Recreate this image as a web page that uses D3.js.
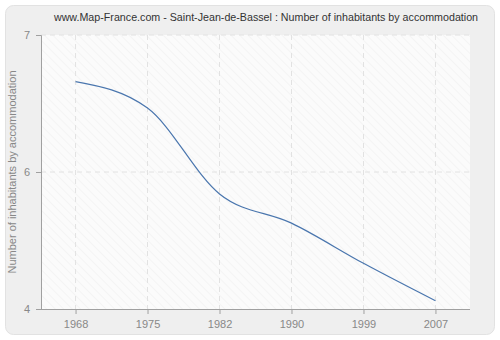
<!DOCTYPE html>
<html>
<head>
<meta charset="utf-8">
<script src="https://cdn.jsdelivr.net/npm/d3@7"></script>
<style>
  body { margin: 0; background: #fff; }
  svg { display: block; font-family: "Liberation Sans", Arial, sans-serif; }
</style>
</head>
<body>
<script>
// chart data
var years = ["1968", "1975", "1982", "1990", "1999", "2007"];
var inhabitants = [6.49, 6.20, 5.26, 4.94, 4.50, 4.09];
var yTicks = [4, 5.5, 7];

var W = 500, H = 340;
var m = {left: 41, right: 30, top: 35, bottom: 31};

var svg = d3.select("body").append("svg")
  .attr("width", W).attr("height", H);

// hatch pattern for the plot background
var defs = svg.append("defs");
var pat = defs.append("pattern")
  .attr("id", "hatch").attr("patternUnits", "userSpaceOnUse")
  .attr("width", 6).attr("height", 6)
  .attr("patternTransform", "rotate(-45)");
pat.append("rect").attr("width", 6).attr("height", 6).attr("fill", "#fbfbfb");
pat.append("line").attr("x1", 0).attr("y1", 0).attr("x2", 0).attr("y2", 6)
  .attr("stroke", "#f2f2f2").attr("stroke-width", 1.5);

// outer frame
svg.append("rect")
  .attr("x", 5.5).attr("y", 5.5).attr("width", W - 11).attr("height", H - 11)
  .attr("rx", 8).attr("fill", "#efefef").attr("stroke", "#e2e2e2");

var x = d3.scalePoint().domain(years).range([m.left, W - m.right]).padding(0.48);
var y = d3.scaleLinear().domain([4, 7]).range([H - m.bottom, m.top]);

svg.append("rect")
  .attr("x", m.left).attr("y", m.top)
  .attr("width", W - m.right - m.left).attr("height", H - m.bottom - m.top)
  .attr("fill", "url(#hatch)");

// grid
var grid = svg.append("g").attr("stroke", "#e2e2e2").attr("stroke-dasharray", "5,4");
grid.selectAll(".vg").data(years).enter().append("line")
  .attr("x1", function(d){ return x(d); }).attr("x2", function(d){ return x(d); })
  .attr("y1", m.top).attr("y2", H - m.bottom);
grid.selectAll(".hg").data(yTicks.slice(1)).enter().append("line")
  .attr("x1", m.left).attr("x2", W - m.right)
  .attr("y1", function(d){ return y(d); }).attr("y2", function(d){ return y(d); });

// axes
var xAxis = svg.append("g")
  .attr("transform", "translate(0," + (H - m.bottom) + ")")
  .call(d3.axisBottom(x).tickSize(5).tickPadding(6));
var yAxis = svg.append("g")
  .attr("transform", "translate(" + m.left + ",0)")
  .call(d3.axisLeft(y).tickValues(yTicks).tickSize(5).tickPadding(6)
    .tickFormat(function(d){ return Math.round(d); }));

[xAxis, yAxis].forEach(function(a){
  a.select(".domain").attr("stroke", "#a0a0a0");
  a.selectAll(".tick line").attr("stroke", "#a0a0a0");
  a.selectAll(".tick text").attr("fill", "#888").style("font-size", "11px");
});
xAxis.select(".domain").attr("d", "M" + (m.left - 5) + ",0.5H" + (W - m.right));

// line
var line = d3.line()
  .x(function(d, i){ return x(years[i]); })
  .y(function(d){ return y(d); })
  .curve(d3.curveMonotoneX);
svg.append("path").datum(inhabitants)
  .attr("d", line).attr("fill", "none")
  .attr("stroke", "#4a76ae").attr("stroke-width", 1.2);

// titles
svg.append("text")
  .attr("x", 266).attr("y", 21).attr("text-anchor", "middle")
  .attr("fill", "#333").style("font-size", "10.7px")
  .text("www.Map-France.com - Saint-Jean-de-Bassel : Number of inhabitants by accommodation");

svg.append("text")
  .attr("transform", "translate(16," + ((m.top + H - m.bottom) / 2) + ") rotate(-90)")
  .attr("text-anchor", "middle").attr("fill", "#888").style("font-size", "11px")
  .text("Number of inhabitants by accommodation");
</script>
</body>
</html>
